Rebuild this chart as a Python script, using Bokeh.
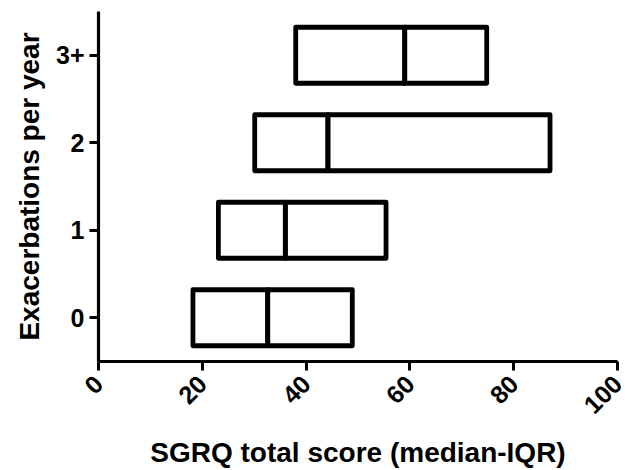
import math
from bokeh.plotting import figure
from bokeh.models import FactorRange, Range1d, FixedTicker
from bokeh.embed import file_html
from bokeh.resources import INLINE

categories = ["0", "1", "2", "3+"]
q1 = [18.2, 23.1, 30.1, 38.0]
median = [32.6, 36.0, 44.2, 59.0]
q3 = [48.9, 55.4, 87.0, 74.8]
x_ticks = [0, 20, 40, 60, 80, 100]

FONT = "Liberation Sans"

p = figure(width=626, height=470, output_backend="svg", toolbar_location=None,
           y_range=FactorRange(factors=categories, range_padding=0),
           x_range=Range1d(0, 100),
           min_border_left=98, min_border_right=9, min_border_top=11, min_border_bottom=108)

p.hbar(y=categories, left=q1, right=median, height=0.64, fill_color=None,
       line_color="black", line_width=4.8, line_join="round")
p.hbar(y=categories, left=median, right=q3, height=0.64, fill_color=None,
       line_color="black", line_width=4.8, line_join="round")

p.outline_line_color = None
p.xgrid.visible = False
p.ygrid.visible = False
p.background_fill_color = "white"
p.border_fill_color = "white"

xa = p.xaxis[0]
xa.ticker = FixedTicker(ticks=x_ticks)
xa.minor_tick_line_color = None
xa.axis_line_width = 3.2
xa.major_tick_line_width = 3
xa.major_tick_out = 9
xa.major_tick_in = 0
xa.major_label_orientation = math.pi / 4
xa.major_label_text_font = FONT
xa.major_label_text_font_style = "bold"
xa.major_label_text_font_size = "25px"
xa.major_label_text_color = "black"
xa.major_label_standoff = 9
xa.axis_label = "SGRQ total score (median-IQR)"
xa.axis_label_text_font = FONT
xa.axis_label_text_font_style = "bold"
xa.axis_label_text_font_size = "28px"
xa.axis_label_text_color = "black"
xa.axis_label_standoff = 12

ya = p.yaxis[0]
ya.axis_line_width = 3.2
ya.major_tick_line_width = 3
ya.major_tick_out = 9
ya.major_tick_in = 0
ya.major_label_text_font = FONT
ya.major_label_text_font_style = "bold"
ya.major_label_text_font_size = "25px"
ya.major_label_text_color = "black"
ya.major_label_standoff = 5
ya.axis_label = "Exacerbations per year"
ya.axis_label_text_font = FONT
ya.axis_label_text_font_style = "bold"
ya.axis_label_text_font_size = "28px"
ya.axis_label_text_color = "black"
ya.axis_label_standoff = 8

open("out.html", "w").write(file_html(p, INLINE))
